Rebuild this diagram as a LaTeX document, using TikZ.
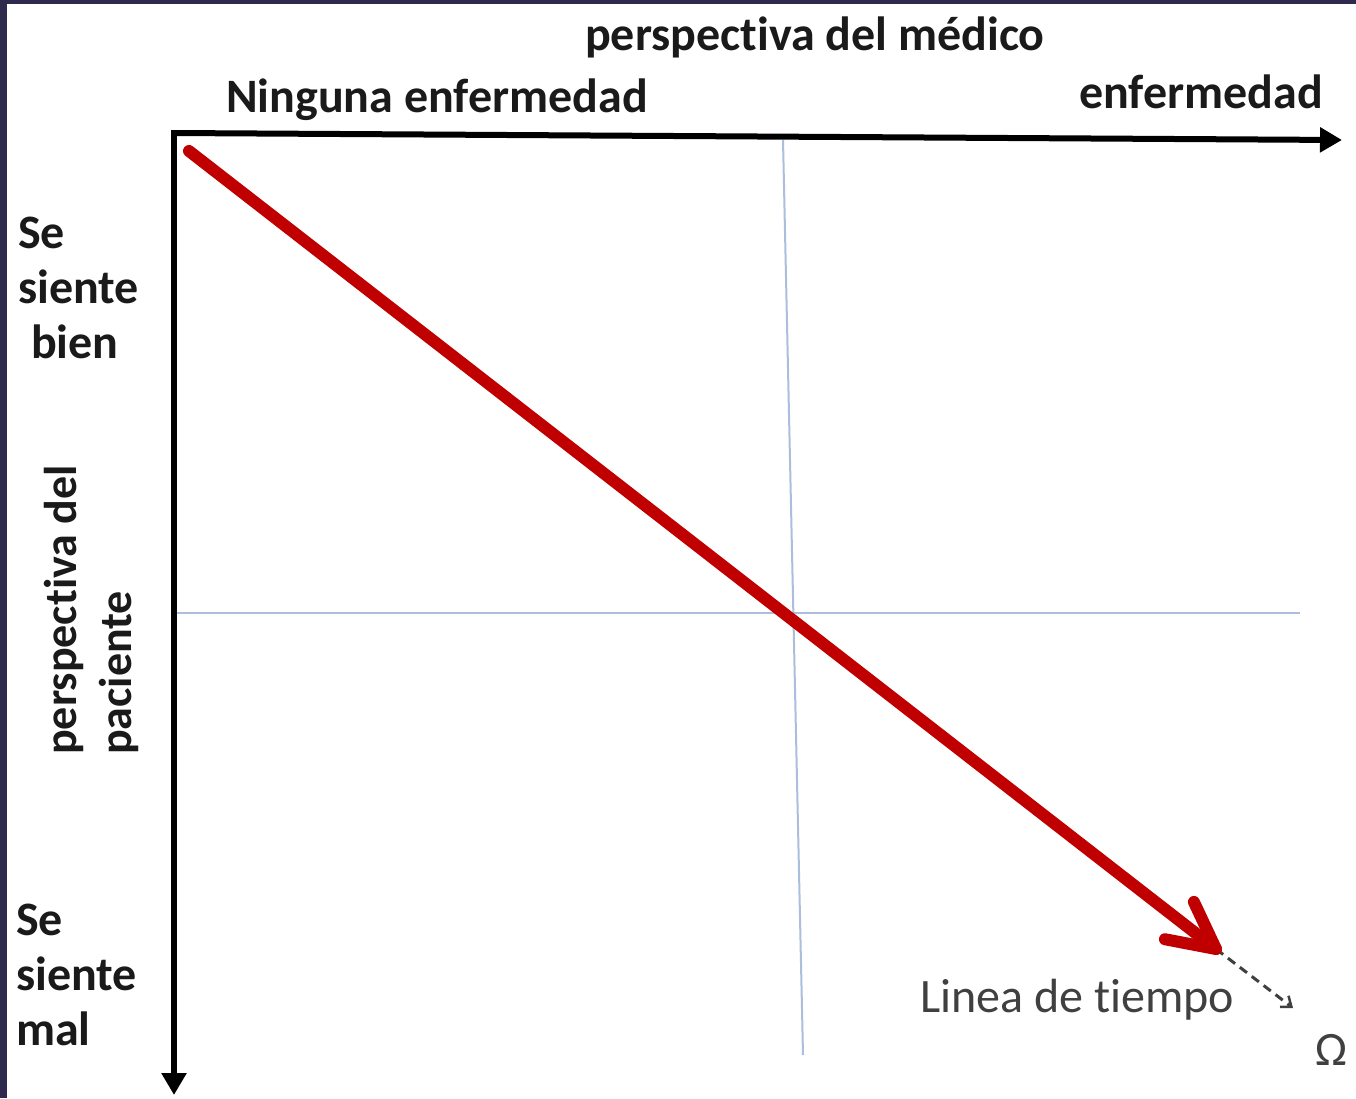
\documentclass[tikz,border=0pt]{standalone}
\usepackage{fontspec}
\setmainfont{Carlito}[Ligatures=NoCommon]
\usetikzlibrary{arrows.meta,calc}
\definecolor{framecol}{RGB}{45,42,78}
\definecolor{redline}{RGB}{192,0,0}
\definecolor{gridblue}{RGB}{172,190,220}
\definecolor{txtdark}{RGB}{26,26,26}
\definecolor{txtgray}{RGB}{64,64,64}
\begin{document}
\begin{tikzpicture}[x=1pt,y=-1pt,
  lbl/.style={font=\fontsize{48}{56}\selectfont\bfseries, text=txtdark, inner sep=0pt, anchor=base west},
  lblr/.style={lbl, anchor=base east},
  rlbl/.style={lbl, font=\fontsize{46}{56}\selectfont\bfseries, rotate=90},
  axisline/.style={line width=6pt, draw=black, -{Triangle[length=22pt,width=24pt]}},
  gridline/.style={line width=2pt, draw=gridblue},
  redarrow/.style={line width=12pt, draw=redline, line cap=round, line join=round},
  timeline/.style={line width=3pt, draw=txtgray, dash pattern=on 9pt off 6pt, -{Straight Barb[length=9pt,width=14pt,line width=2.5pt]}},
  note/.style={font=\fontsize{48}{56}\selectfont, text=txtgray, inner sep=0pt, anchor=base west}]
\useasboundingbox (0,0) rectangle (1356,1098);
\fill[white] (0,0) rectangle (1356,1098);
\fill[framecol] (0,0) rectangle (7,1098);
\fill[framecol] (0,0) rectangle (1356,4);

% coordinates
\coordinate (origin) at (174,133);
\coordinate (xend) at (1342,140);
\coordinate (yend) at (174,1095);
\coordinate (vtop) at (783,140);
\coordinate (vbot) at (803,1055);
\coordinate (hleft) at (175,613);
\coordinate (hright) at (1300,613);
\coordinate (rs) at (189,151);
\coordinate (rt) at (1216,949);
\coordinate (te) at (1293,1008);

% grid lines
\draw[gridline] (vtop) -- (vbot);
\draw[gridline] (hleft) -- (hright);

% axes
\draw[axisline] (origin) -- (xend);
\draw[axisline] ([yshift=3pt]origin) -- (yend);
\draw[line width=6pt] ([xshift=-3pt]origin) -- ([xshift=3pt]origin);

% timeline dashed
\draw[timeline] (rt) -- (te);

% red arrow
\draw[redarrow] (rs) -- (rt);
\draw[redarrow] ($(rt)!52pt!27:(rs)$) -- (rt) -- ($(rt)!52pt!-27:(rs)$);

% labels
\node[lbl] (medico) at (585,50) {perspectiva del médico};
\node[lbl] (ninguna) at (226,112) {Ninguna enfermedad};
\node[lblr] (enf) at (1323,108) {enfermedad};

\node[lbl] (b1) at (18,248) {Se};
\node[lbl] (b2) at (18,303) {siente};
\node[lbl] (b3) at (31,358) {bien};

\node[lbl] (m1) at (16,935) {Se};
\node[lbl] (m2) at (16,990) {siente};
\node[lbl] (m3) at (16,1045) {mal};

\node[rlbl] (p1) at (76,755) {perspectiva del};
\node[rlbl] (p2) at (131,755) {paciente};

\node[note] (tiempo) at (920,1012) {Linea de tiempo};
\node[note] (omega) at (1315,1065) {Ω};
\end{tikzpicture}
\end{document}
